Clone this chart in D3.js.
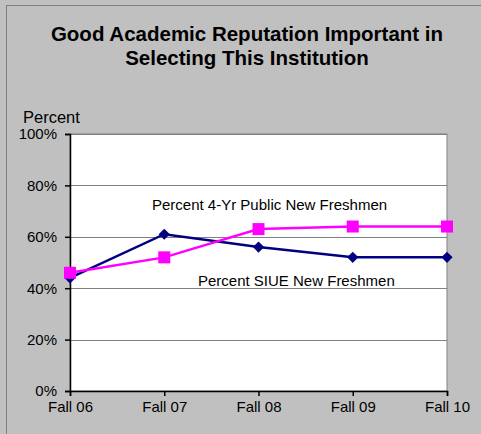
<!DOCTYPE html>
<html><head><meta charset="utf-8">
<script src="https://cdn.jsdelivr.net/npm/d3@7"></script>
<style>body{margin:0;background:#fff}svg{display:block}</style>
</head><body>
<script>
const categories = ["Fall 06","Fall 07","Fall 08","Fall 09","Fall 10"];
const siue = [44, 61, 56, 52, 52];
const publicFour = [46, 52, 63, 64, 64];
const yTicks = [0, 20, 40, 60, 80, 100];

const W = 481, H = 434;
const m = {left:70, right:481-447, top:134, bottom:434-391};
const svg = d3.select("body").append("svg").attr("width",W).attr("height",H);
svg.append("rect").attr("x",0).attr("y",0).attr("width",W).attr("height",H).attr("fill","#c0c0c0");
svg.append("line").attr("x1",6).attr("x2",W).attr("y1",5.5).attr("y2",5.5).attr("stroke","#808080");
svg.append("line").attr("x1",6.5).attr("x2",6.5).attr("y1",5).attr("y2",H).attr("stroke","#808080");

const x = d3.scalePoint().domain(categories).range([m.left, W-m.right]);
const y = d3.scaleLinear().domain([0,100]).range([H-m.bottom, m.top]);

svg.append("rect").attr("x",m.left).attr("y",m.top).attr("width",W-m.right-m.left).attr("height",H-m.bottom-m.top)
  .attr("fill","#fff").attr("stroke","#808080");

svg.append("g").selectAll("line").data(yTicks.filter(d=>d>0)).join("line")
  .attr("x1",m.left).attr("x2",W-m.right).attr("y1",d=>Math.round(y(d))+0.5).attr("y2",d=>Math.round(y(d))+0.5)
  .attr("stroke","#808080");

const font = "'Liberation Sans', Arial, sans-serif";
const yAxis = svg.append("g").attr("transform",`translate(${m.left},0)`)
  .call(d3.axisLeft(y).tickValues(yTicks).tickFormat(d=>d+"%").tickSizeOuter(0).tickSize(5));
const xAxis = svg.append("g").attr("transform",`translate(0,${H-m.bottom})`)
  .call(d3.axisBottom(x).tickSizeOuter(0).tickSize(5));
[yAxis,xAxis].forEach(a=>{
  a.selectAll("path,line").attr("stroke","#000").attr("stroke-width",1.5);
  a.selectAll("text").attr("font-family",font).attr("font-size",15).attr("fill","#000");
});
yAxis.selectAll("text").attr("x",-13);
xAxis.selectAll("text").attr("y",10);

const line = d3.line().x((d,i)=>x(categories[i])).y(d=>y(d));
svg.append("path").datum(siue).attr("d",line).attr("fill","none").attr("stroke","#000080").attr("stroke-width",2.5);
svg.append("path").datum(publicFour).attr("d",line).attr("fill","none").attr("stroke","#ff00ff").attr("stroke-width",2.5);

svg.append("g").selectAll("path").data(siue).join("path")
  .attr("d",d3.symbol(d3.symbolDiamond2 || d3.symbolDiamond, 80)())
  .attr("transform",(d,i)=>`translate(${x(categories[i])},${y(d)})`).attr("fill","#000080");
svg.append("g").selectAll("rect").data(publicFour).join("rect")
  .attr("x",(d,i)=>x(categories[i])-6).attr("y",d=>y(d)-6).attr("width",12).attr("height",12).attr("fill","#ff00ff");

const t = svg.append("text").attr("x",247).attr("text-anchor","middle").attr("font-family",font)
  .attr("font-weight","bold").attr("font-size",20.5).attr("fill","#000");
t.append("tspan").attr("x",247).attr("y",41).text("Good Academic Reputation Important in");
t.append("tspan").attr("x",247).attr("y",65).text("Selecting This Institution");

svg.append("text").attr("x",23).attr("y",123).attr("font-family",font).attr("font-size",16.5).text("Percent");
svg.append("text").attr("x",152).attr("y",210).attr("font-family",font).attr("font-size",15).text("Percent 4-Yr Public New Freshmen");
svg.append("text").attr("x",198).attr("y",286).attr("font-family",font).attr("font-size",15).text("Percent SIUE New Freshmen");
</script>
</body></html>
